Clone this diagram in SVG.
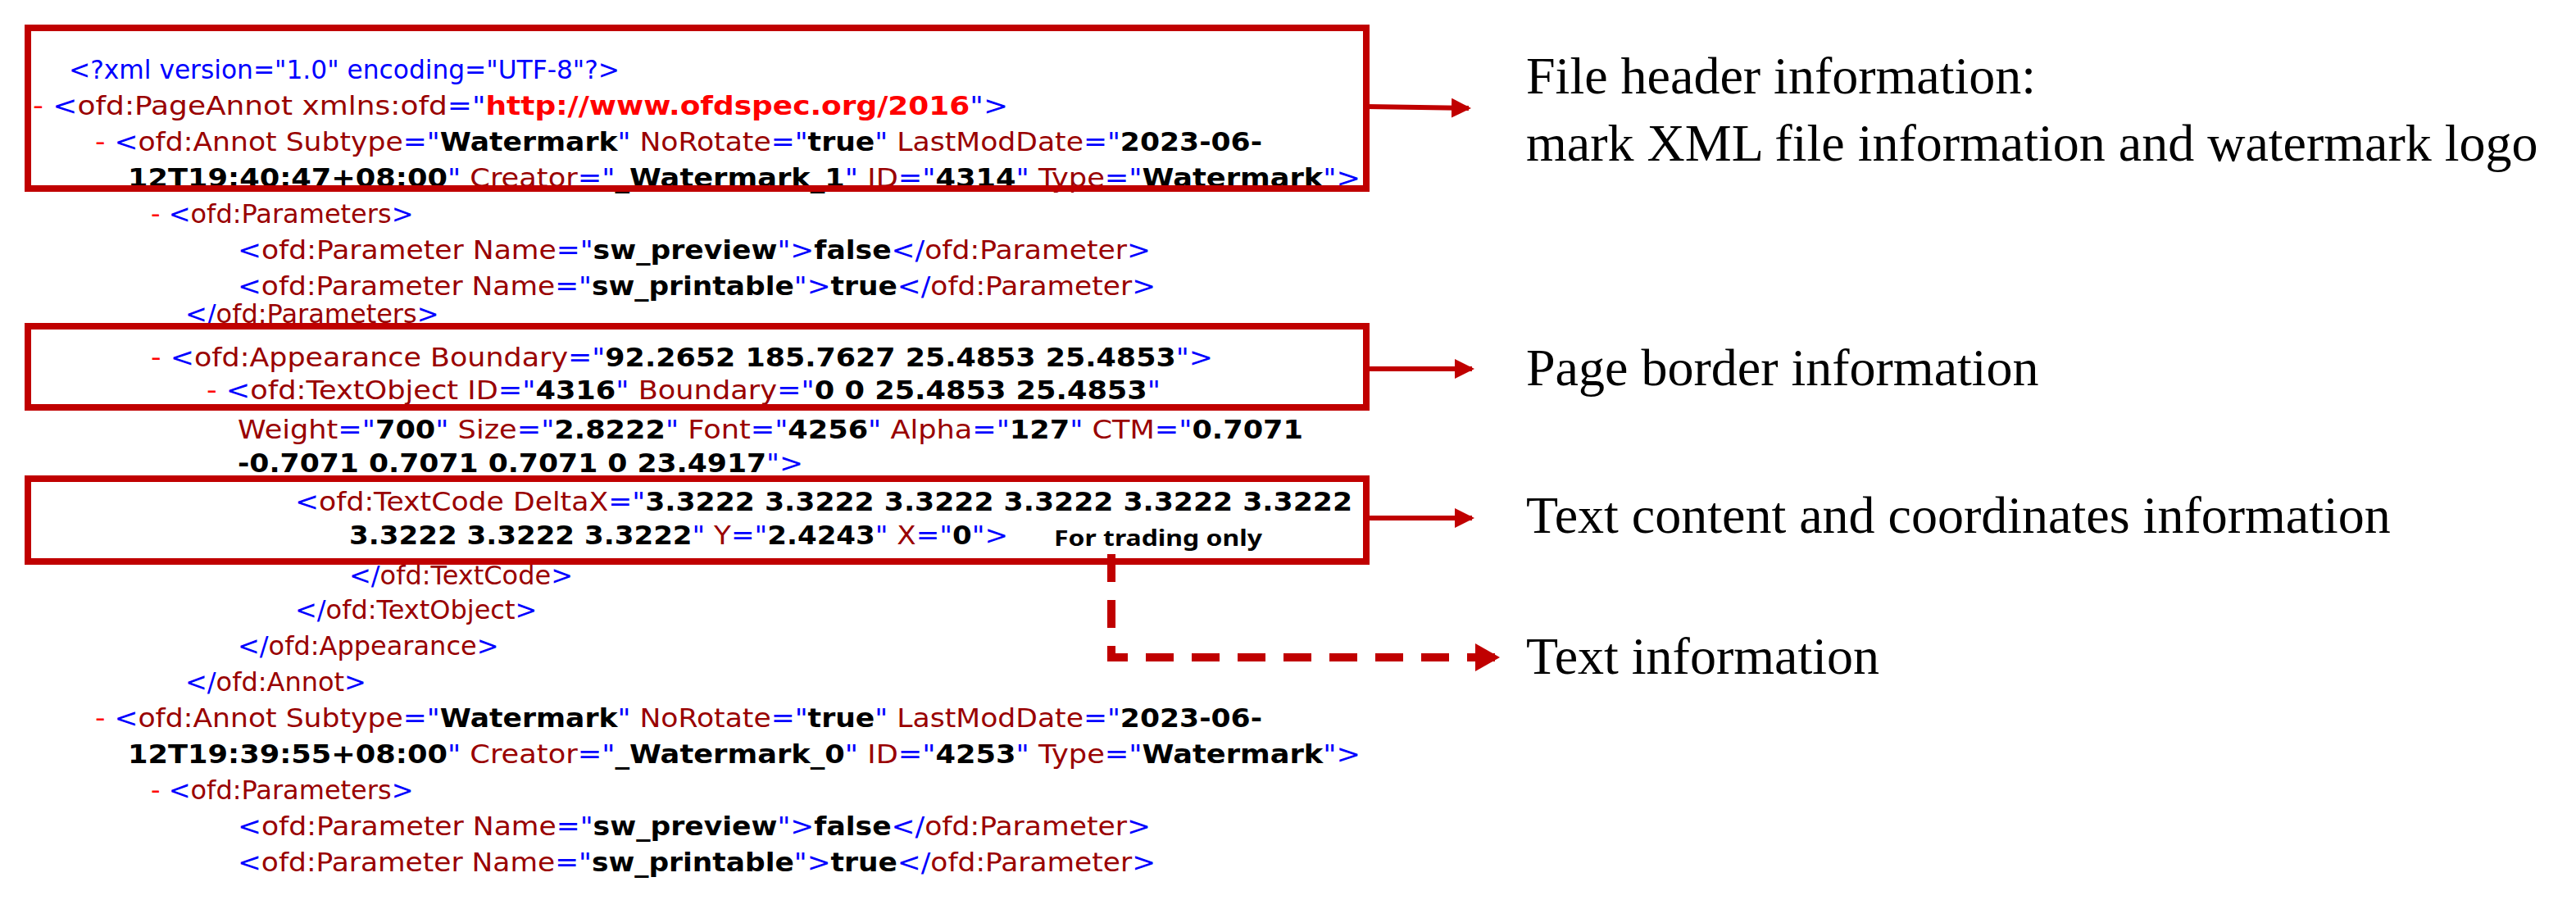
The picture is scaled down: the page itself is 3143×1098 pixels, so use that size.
<svg xmlns="http://www.w3.org/2000/svg" width="3143" height="1098" viewBox="0 0 3143 1098">
<style>
.x{font-family:"DejaVu Sans","Liberation Sans",sans-serif;font-size:32px;fill:#0000ff}
.t{fill:#990000}.v{fill:#000;font-weight:bold}.d{fill:#ff0000}.u{fill:#ff0000;font-weight:bold}
.lab{font-family:"Liberation Serif","Times New Roman",serif;font-size:64px;fill:#000}
.box{fill:none;stroke:#c00000;stroke-width:8}
.ln{stroke:#c00000;stroke-width:6;fill:none}
</style>
<defs><marker id="ah" markerWidth="4" markerHeight="4" refX="3.5" refY="2" orient="auto" markerUnits="strokeWidth"><path d="M0,0 L4,2 L0,4z" fill="#c00000"/></marker>
<marker id="ah2" markerWidth="3" markerHeight="3.4" refX="2.6" refY="1.7" orient="auto" markerUnits="strokeWidth"><path d="M0,0 L3,1.7 L0,3.4z" fill="#c00000"/></marker></defs>
<g id="code">
<text class="x" x="84" y="96" textLength="672" lengthAdjust="spacingAndGlyphs">&lt;?xml version="1.0" encoding="UTF-8"?&gt;</text>
<text class="x" x="40" y="140" textLength="1190" lengthAdjust="spacingAndGlyphs"><tspan class="d">- </tspan>&lt;<tspan class="t">ofd:PageAnnot xmlns:ofd</tspan>="<tspan class="u">http://www.ofdspec.org/2016</tspan>"&gt;</text>
<text class="x" x="116" y="184" textLength="1424" lengthAdjust="spacingAndGlyphs"><tspan class="d">- </tspan>&lt;<tspan class="t">ofd:Annot Subtype</tspan>="<tspan class="v">Watermark</tspan>" <tspan class="t">NoRotate</tspan>="<tspan class="v">true</tspan>" <tspan class="t">LastModDate</tspan>="<tspan class="v">2023-06-</tspan></text>
<text class="x" x="156" y="228" textLength="1504" lengthAdjust="spacingAndGlyphs"><tspan class="v">12T19:40:47+08:00</tspan>" <tspan class="t">Creator</tspan>="<tspan class="v">_Watermark_1</tspan>" <tspan class="t">ID</tspan>="<tspan class="v">4314</tspan>" <tspan class="t">Type</tspan>="<tspan class="v">Watermark</tspan>"&gt;</text>
<text class="x" x="184" y="272"><tspan class="d">- </tspan>&lt;<tspan class="t">ofd:Parameters</tspan>&gt;</text>
<text class="x" x="290" y="316" textLength="1114" lengthAdjust="spacingAndGlyphs">&lt;<tspan class="t">ofd:Parameter Name</tspan>="<tspan class="v">sw_preview</tspan>"&gt;<tspan class="v">false</tspan>&lt;/<tspan class="t">ofd:Parameter</tspan>&gt;</text>
<text class="x" x="290" y="360" textLength="1120" lengthAdjust="spacingAndGlyphs">&lt;<tspan class="t">ofd:Parameter Name</tspan>="<tspan class="v">sw_printable</tspan>"&gt;<tspan class="v">true</tspan>&lt;/<tspan class="t">ofd:Parameter</tspan>&gt;</text>
<text class="x" x="226" y="394">&lt;/<tspan class="t">ofd:Parameters</tspan>&gt;</text>
<text class="x" x="184" y="447" textLength="1296" lengthAdjust="spacingAndGlyphs"><tspan class="d">- </tspan>&lt;<tspan class="t">ofd:Appearance Boundary</tspan>="<tspan class="v">92.2652 185.7627 25.4853 25.4853</tspan>"&gt;</text>
<text class="x" x="252" y="487" textLength="1164" lengthAdjust="spacingAndGlyphs"><tspan class="d">- </tspan>&lt;<tspan class="t">ofd:TextObject ID</tspan>="<tspan class="v">4316</tspan>" <tspan class="t">Boundary</tspan>="<tspan class="v">0 0 25.4853 25.4853</tspan>"</text>
<text class="x" x="290" y="535" textLength="1300" lengthAdjust="spacingAndGlyphs"><tspan class="t">Weight</tspan>="<tspan class="v">700</tspan>" <tspan class="t">Size</tspan>="<tspan class="v">2.8222</tspan>" <tspan class="t">Font</tspan>="<tspan class="v">4256</tspan>" <tspan class="t">Alpha</tspan>="<tspan class="v">127</tspan>" <tspan class="t">CTM</tspan>="<tspan class="v">0.7071</tspan></text>
<text class="x" x="290" y="576" textLength="690" lengthAdjust="spacingAndGlyphs"><tspan class="v">-0.7071 0.7071 0.7071 0 23.4917</tspan>"&gt;</text>
<text class="x" x="360" y="623" textLength="1290" lengthAdjust="spacingAndGlyphs">&lt;<tspan class="t">ofd:TextCode DeltaX</tspan>="<tspan class="v">3.3222 3.3222 3.3222 3.3222 3.3222 3.3222</tspan></text>
<text class="x" x="426" y="664" textLength="804" lengthAdjust="spacingAndGlyphs"><tspan class="v">3.3222 3.3222 3.3222</tspan>" <tspan class="t">Y</tspan>="<tspan class="v">2.4243</tspan>" <tspan class="t">X</tspan>="<tspan class="v">0</tspan>"&gt;</text>
<text class="x" x="426" y="713">&lt;/<tspan class="t">ofd:TextCode</tspan>&gt;</text>
<text class="x" x="360" y="755">&lt;/<tspan class="t">ofd:TextObject</tspan>&gt;</text>
<text class="x" x="290" y="799">&lt;/<tspan class="t">ofd:Appearance</tspan>&gt;</text>
<text class="x" x="226" y="843">&lt;/<tspan class="t">ofd:Annot</tspan>&gt;</text>
<text class="x" x="116" y="887" textLength="1424" lengthAdjust="spacingAndGlyphs"><tspan class="d">- </tspan>&lt;<tspan class="t">ofd:Annot Subtype</tspan>="<tspan class="v">Watermark</tspan>" <tspan class="t">NoRotate</tspan>="<tspan class="v">true</tspan>" <tspan class="t">LastModDate</tspan>="<tspan class="v">2023-06-</tspan></text>
<text class="x" x="156" y="931" textLength="1504" lengthAdjust="spacingAndGlyphs"><tspan class="v">12T19:39:55+08:00</tspan>" <tspan class="t">Creator</tspan>="<tspan class="v">_Watermark_0</tspan>" <tspan class="t">ID</tspan>="<tspan class="v">4253</tspan>" <tspan class="t">Type</tspan>="<tspan class="v">Watermark</tspan>"&gt;</text>
<text class="x" x="184" y="975"><tspan class="d">- </tspan>&lt;<tspan class="t">ofd:Parameters</tspan>&gt;</text>
<text class="x" x="290" y="1019" textLength="1114" lengthAdjust="spacingAndGlyphs">&lt;<tspan class="t">ofd:Parameter Name</tspan>="<tspan class="v">sw_preview</tspan>"&gt;<tspan class="v">false</tspan>&lt;/<tspan class="t">ofd:Parameter</tspan>&gt;</text>
<text class="x" x="290" y="1063" textLength="1120" lengthAdjust="spacingAndGlyphs">&lt;<tspan class="t">ofd:Parameter Name</tspan>="<tspan class="v">sw_printable</tspan>"&gt;<tspan class="v">true</tspan>&lt;/<tspan class="t">ofd:Parameter</tspan>&gt;</text>
<text x="1286" y="666" font-family="Noto Sans, sans-serif" font-size="26" font-weight="bold" textLength="254" lengthAdjust="spacingAndGlyphs">For trading only</text>
</g>
<g id="box-header"><rect class="box" x="34" y="34" width="1633" height="196"/></g>
<g id="box-border"><rect class="box" x="34" y="398" width="1633" height="99"/></g>
<g id="box-text"><rect class="box" x="34" y="584" width="1633" height="101"/></g>
<g id="label-header"><text class="lab" x="1862" y="114">File header information:</text><text class="lab" x="1862" y="196">mark XML file information and watermark logo</text></g>
<g id="label-border"><text class="lab" x="1862" y="470">Page border information</text></g>
<g id="label-text"><text class="lab" x="1862" y="650">Text content and coordinates information</text></g>
<g id="label-info"><text class="lab" x="1862" y="822">Text information</text></g>
<g id="connectors">
<line class="ln" x1="1667" y1="130" x2="1792" y2="132" marker-end="url(#ah)"/>
<line class="ln" x1="1667" y1="450" x2="1796" y2="450" marker-end="url(#ah)"/>
<line class="ln" x1="1667" y1="632" x2="1796" y2="632" marker-end="url(#ah)"/>
<path d="M1356,676 V802 H1826" fill="none" stroke="#c00000" stroke-width="10" stroke-dasharray="34,22" marker-end="url(#ah2)"/>
</g>
</svg>
